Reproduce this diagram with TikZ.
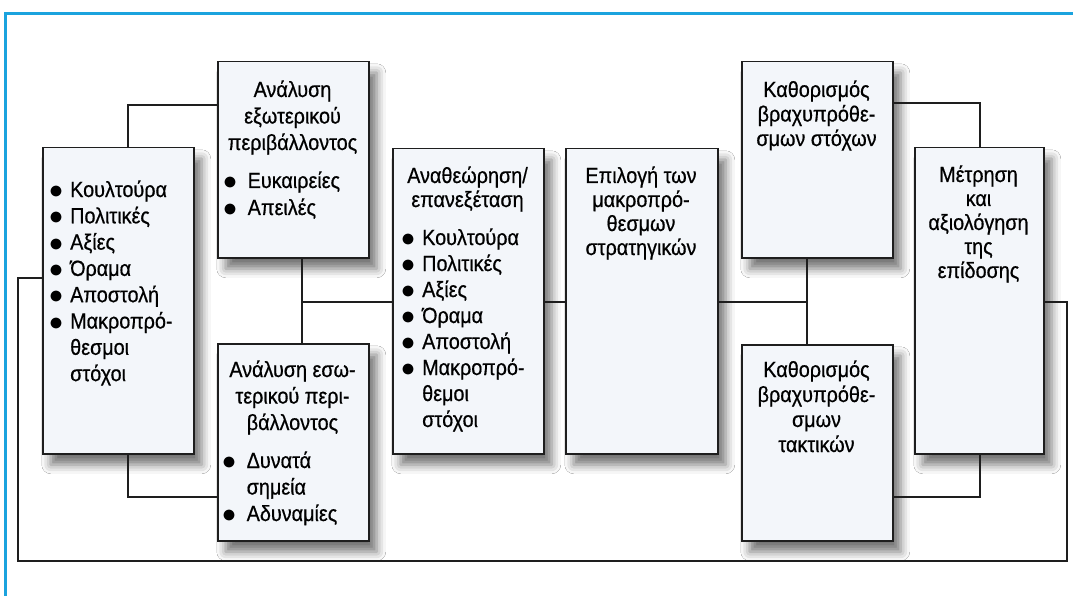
\documentclass[tikz,border=0pt]{standalone}
\usepackage{fontspec}
\usepackage{graphicx}
\setmainfont[FakeStretch=0.9,FakeBold=0.6]{Liberation Sans}
\usetikzlibrary{shadows.blur}
\definecolor{frameblue}{RGB}{27,163,222}
\definecolor{boxfill}{RGB}{243,246,250}
\definecolor{ink}{RGB}{30,30,30}
\newcommand\bi[1][21pt]{\makebox[#1][l]{\raisebox{-1.6pt}{\scalebox{1.35}{$\bullet$}}}}
\newcommand\ind[1][21pt]{\hspace*{#1}}
\begin{document}
\begin{tikzpicture}[x=1pt,y=-1pt,
  box/.style={draw=ink, line width=1.5pt, fill=boxfill, minimum width=151pt,
    anchor=north west, inner sep=0pt,
    blur shadow={shadow xshift=8pt, shadow yshift=-11pt, shadow blur radius=9pt, shadow opacity=55}},
  conn/.style={draw=ink, line width=1.5pt},
  txt/.style={inner sep=0pt, anchor=base, text=black},
  fs/.style={font=\fontsize{22}{#1}\selectfont}]
\useasboundingbox (0,0) rectangle (1073,596);
\fill[white] (0,0) rectangle (1073,596);
\draw[frameblue, line width=3pt] (5.5,596) -- (5.5,13.5) -- (1073,13.5);

% connectors
\coordinate (j1) at (302,302);
\coordinate (j2) at (807,302);
\coordinate (c1) at (128,105);
\coordinate (c2) at (128,497);
\coordinate (c3) at (980,103);
\coordinate (c4) at (980,497);
\coordinate (f1) at (1067,561);
\coordinate (f2) at (18,278);

% boxes (nodes)
\node[box, minimum height=306pt] (b1) at (42,147) {};
\node[box, minimum height=196pt] (b2) at (217,61) {};
\node[box, minimum height=197pt] (b3) at (217,343) {};
\node[box, minimum height=305pt] (b4) at (392,148) {};
\node[box, minimum height=305pt, minimum width=152pt] (b5) at (565,148) {};
\node[box, minimum height=196pt] (b6) at (741,61) {};
\node[box, minimum height=306pt, minimum width=129pt] (b7) at (914,147) {};
\node[box, minimum height=196pt] (b8) at (741,344) {};

\draw[conn] (b1.north -| c1) -- (c1) -- (c1 -| b2.west);
\draw[conn] (b1.south -| c2) -- (c2) -- (c2 -| b3.west);
\draw[conn] (b2.south -| j1) -- (b3.north -| j1);
\draw[conn] (j1) -- (j1 -| b4.west);
\draw[conn] (b4.east |- j1) -- (b5.west |- j1);
\draw[conn] (b5.east |- j2) -- (j2);
\draw[conn] (b6.south -| j2) -- (b8.north -| j2);
\draw[conn] (b6.east |- c3) -- (c3) -- (c3 |- b7.north);
\draw[conn] (b7.south -| c4) -- (c4) -- (c4 -| b8.east);
\draw[conn] (b7.east |- j2) -| (f1) -| (f2) -- (f2 -| b1.west);

% texts
\node[txt, anchor=base west, fs=26.3] (t1) at (49,197) {\begin{tabular}[t]{@{}l@{}}
\bi Κουλτούρα\\ \bi Πολιτικές\\ \bi Αξίες\\ \bi Όραμα\\ \bi Αποστολή\\ \bi Μακροπρό-\\ \ind θεσμοι\\ \ind στόχοι\end{tabular}};

\node[txt, fs=26.5] (t2h) at (292.5,97) {\begin{tabular}[t]{@{}c@{}}Ανάλυση\\ εξωτερικού\\ περιβάλλοντος\end{tabular}};
\node[txt, anchor=base west, fs=27] (t2l) at (223,188) {\begin{tabular}[t]{@{}l@{}}
\bi[19pt] Ευκαιρείες\\ \bi[19pt] Απειλές\end{tabular}};

\node[txt, fs=26.5] (t3h) at (292.5,377) {\begin{tabular}[t]{@{}c@{}}Ανάλυση εσω-\\ τερικού περι-\\ βάλλοντος\end{tabular}};
\node[txt, anchor=base west, fs=26.5] (t3l) at (222,468) {\begin{tabular}[t]{@{}l@{}}
\bi[19pt] Δυνατά\\ \ind[19pt] σημεία\\ \bi[19pt] Αδυναμίες\end{tabular}};

\node[txt, fs=24] (t4h) at (467.5,183) {\begin{tabular}[t]{@{}c@{}}Αναθεώρηση/\\ επανεξέταση\end{tabular}};
\node[txt, anchor=base west, fs=26] (t4l) at (401,245) {\begin{tabular}[t]{@{}l@{}}
\bi Κουλτούρα\\ \bi Πολιτικές\\ \bi Αξίες\\ \bi Όραμα\\ \bi Αποστολή\\ \bi Μακροπρό-\\ \ind θεμοι\\ \ind στόχοι\end{tabular}};

\node[txt, fs=24] (t5) at (641,183) {\begin{tabular}[t]{@{}c@{}}Επιλογή των\\ μακροπρό-\\ θεσμων\\ στρατηγικών\end{tabular}};

\node[txt, fs=24.5] (t6) at (816.5,97) {\begin{tabular}[t]{@{}c@{}}Καθορισμός\\ βραχυπρόθε-\\ σμων στόχων\end{tabular}};

\node[txt, fs=24] (t7) at (978.5,182) {\begin{tabular}[t]{@{}c@{}}Μέτρηση\\ και\\ αξιολόγηση\\ της\\ επίδοσης\end{tabular}};

\node[txt, fs=25] (t8) at (816.5,377) {\begin{tabular}[t]{@{}c@{}}Καθορισμός\\ βραχυπρόθε-\\ σμων\\ τακτικών\end{tabular}};
\end{tikzpicture}
\end{document}
